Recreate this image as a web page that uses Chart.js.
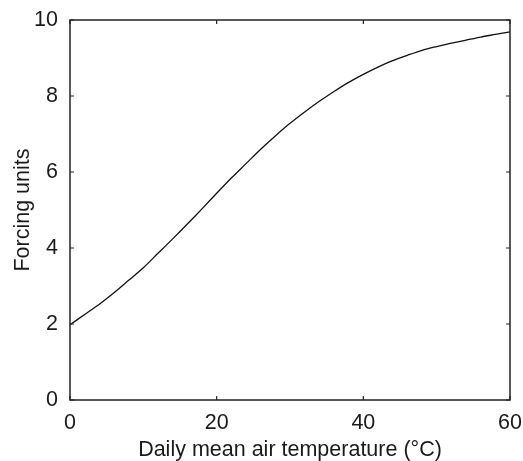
<!DOCTYPE html>
<html>
<head>
<meta charset="utf-8">
<script src="https://cdn.jsdelivr.net/npm/chart.js@4/dist/chart.umd.min.js"></script>
<style>
  html, body { margin: 0; padding: 0; background: #fff; }
  #wrap { width: 523px; height: 461px; }
</style>
</head>
<body>
<div id="wrap"><canvas id="c" width="523" height="461"></canvas></div>
<script>
// Data
const temperatures = [0, 2, 4, 6, 8, 10, 12, 14, 16, 18, 20, 22, 24, 26, 28, 30, 32, 34, 36, 38, 40, 42, 44, 46, 48, 50, 52, 54, 56, 58, 60];
const forcingUnits = [1.98, 2.25, 2.52, 2.82, 3.15, 3.48, 3.86, 4.24, 4.63, 5.03, 5.44, 5.84, 6.22, 6.6, 6.95, 7.28, 7.58, 7.86, 8.12, 8.36, 8.57, 8.76, 8.93, 9.07, 9.2, 9.3, 9.39, 9.47, 9.55, 9.62, 9.69];
const xTicks = [0, 20, 40, 60];
const yTicks = [0, 2, 4, 6, 8, 10];
const xTitle = 'Daily mean air temperature (°C)';
const yTitle = 'Forcing units';

const points = temperatures.map((t, i) => ({ x: t, y: forcingUnits[i] }));

const textColor = '#1a1a1a';
const font = { family: '"Liberation Sans", Arial, Helvetica, sans-serif', size: 21.5 };
const titleFont = { family: '"Liberation Sans", Arial, Helvetica, sans-serif', size: 21.5, lineHeight: 1 };

const frameTicks = {
  id: 'frameTicks',
  afterDraw(chart) {
    const { ctx, chartArea: a, scales } = chart;
    ctx.save();
    ctx.strokeStyle = '#222';
    ctx.lineWidth = 1.5;
    ctx.strokeRect(a.left, a.top, a.right - a.left, a.bottom - a.top);
    ctx.lineWidth = 1.2;
    const len = 4;
    ctx.beginPath();
    xTicks.forEach(v => {
      const px = scales.x.getPixelForValue(v);
      ctx.moveTo(px, a.bottom); ctx.lineTo(px, a.bottom - len);
      ctx.moveTo(px, a.top); ctx.lineTo(px, a.top + len);
    });
    yTicks.forEach(v => {
      const py = scales.y.getPixelForValue(v);
      ctx.moveTo(a.left, py); ctx.lineTo(a.left + len, py);
      ctx.moveTo(a.right, py); ctx.lineTo(a.right - len, py);
    });
    ctx.stroke();
    ctx.restore();
  }
};

new Chart(document.getElementById('c'), {
  type: 'scatter',
  data: {
    datasets: [{
      data: points,
      showLine: true,
      borderColor: '#111',
      borderWidth: 1.3,
      pointRadius: 0,
      tension: 0.3,
      fill: false
    }]
  },
  options: {
    responsive: false,
    animation: false,
    layout: { padding: { top: 20, right: 13, left: 0, bottom: 0 } },
    plugins: { legend: { display: false }, tooltip: { enabled: false } },
    scales: {
      x: {
        type: 'linear',
        min: 0, max: 60,
        afterBuildTicks: s => { s.ticks = xTicks.map(v => ({ value: v })); },
        afterFit: s => { s.height = 61; s.paddingLeft = 0; s.paddingRight = 0; },
        grid: { display: false, drawTicks: false },
        border: { display: false },
        ticks: { color: textColor, font, padding: 10, maxRotation: 0 },
        title: { display: true, text: xTitle, color: textColor, font: titleFont, padding: { top: 0, bottom: 0 } }
      },
      y: {
        type: 'linear',
        min: 0, max: 10,
        afterBuildTicks: s => { s.ticks = yTicks.map(v => ({ value: v })); },
        afterFit: s => { s.width = 70; s.paddingTop = 0; s.paddingBottom = 0; },
        grid: { display: false, drawTicks: false },
        border: { display: false },
        ticks: { color: textColor, font, padding: 12 },
        title: { display: true, text: yTitle, color: textColor, font: titleFont, padding: { top: 12, bottom: 0 } }
      }
    }
  },
  plugins: [frameTicks]
});
</script>
</body>
</html>
